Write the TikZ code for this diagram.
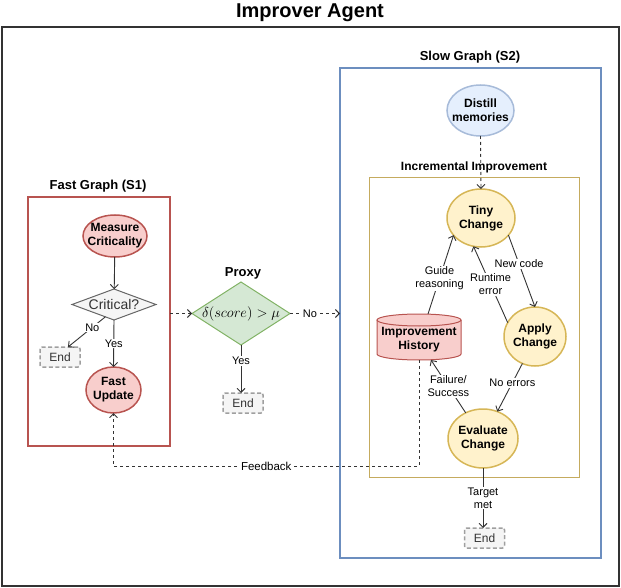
\documentclass[tikz,border=0pt]{standalone}
\usepackage{fontspec}
\setmainfont{Liberation Sans}
\usetikzlibrary{shapes.geometric,arrows.meta,calc}
\definecolor{redS}{HTML}{B85450}
\definecolor{redF}{HTML}{F8CECC}
\definecolor{bluS}{HTML}{6C8EBF}
\definecolor{bluF}{HTML}{DAE8FC}
\definecolor{yelS}{HTML}{D6B656}
\definecolor{yelF}{HTML}{FFF2CC}
\definecolor{grnS}{HTML}{82B366}
\definecolor{grnF}{HTML}{D5E8D4}
\definecolor{gryS}{HTML}{666666}
\definecolor{gryF}{HTML}{F5F5F5}
\definecolor{txt}{HTML}{333333}
\definecolor{conn}{HTML}{333333}
\begin{document}
\begin{tikzpicture}[x=1pt,y=-1pt,
  every node/.style={inner sep=0pt, outer sep=0pt},
  titletext/.style={font=\fontsize{13}{15}\selectfont\bfseries},
  ell/.style={ellipse, inner sep=-12pt, line width=1.5pt, align=center, font=\fontsize{12}{14}\selectfont\bfseries},
  redell/.style={ell, draw=redS, fill=redF},
  yelell/.style={ell, draw=yelS, fill=yelF},
  bluell/.style={ell, draw=bluS!60, fill=bluF!70},
  endbox/.style={rectangle, rounded corners=2pt, draw=gray!75, dashed, dash pattern=on 4pt off 2.5pt, fill=gryF, line width=1.5pt, minimum width=40pt, minimum height=20pt, text=txt, font=\fontsize{12}{14}\selectfont},
  lbl/.style={fill=white, align=center, font=\fontsize{11}{13}\selectfont, inner sep=1pt},
  arr/.style={draw=conn, line width=0.9pt, -{Straight Barb[length=4pt,width=8pt]}},
  darr/.style={arr, dashed, dash pattern=on 3pt off 3pt},
]
\useasboundingbox (0,0) rectangle (621,588);
% title and outer frame
\node[font=\fontsize{20}{24}\selectfont\bfseries] (title) at (310,13) {Improver Agent};
\draw[draw=black!80, line width=2pt] (1.5,27.5) rectangle (619,586);

% fast graph
\node[titletext] (fastT) at (98,186) {Fast Graph (S1)};
\node[rectangle, draw=redS, line width=1.5pt, minimum width=142pt, minimum height=249pt] (fast) at (99,321.5) {};
\node[redell, minimum width=64pt, minimum height=42pt] (meas) at (115,236) {Measure\\Criticality};
\node[diamond, draw=gryS, fill=gryF, line width=1pt, aspect=2.7, minimum width=84pt, minimum height=31pt, text=txt, font=\fontsize{14}{16}\selectfont] (crit) at (114,304.5) {Critical?};
\node[endbox] (endL) at (60,357) {End};
\node[redell, minimum width=55pt, minimum height=46pt] (fupd) at (113.5,390) {Fast\\Update};
\draw[arr] (meas) -- (crit);
\draw[arr] (crit.south) -- node[lbl, pos=0.5] {Yes} (fupd.north);
\draw[arr] (crit.235) -- node[lbl, pos=0.35] {No} ($(endL.north)+(8,0)$);

% proxy
\node[titletext] (proxyT) at (243,273) {Proxy};
\node[diamond, draw=grnS, fill=grnF, line width=1pt, aspect=1.55, inner sep=-6pt, minimum width=98pt, minimum height=63pt, font=\fontsize{14}{16}\selectfont] (proxy) at (241,313.5) {$\delta(score) > \mu$};
\node[endbox] (endP) at (243,403) {End};
\draw[darr] (fast.east |- proxy.west) -- (proxy.west);
\draw[arr] (proxy.south) -- node[lbl, pos=0.33] {Yes} (proxy.south |- endP.north);

% slow graph
\node[titletext] (slowT) at (470,57) {Slow Graph (S2)};
\node[rectangle, draw=bluS, line width=1.5pt, minimum width=261pt, minimum height=490pt] (slow) at (470.5,313) {};
\draw[darr] (proxy.east) -- node[lbl, pos=0.4] {No} (slow.west |- proxy.east);
\node[bluell, minimum width=67pt, minimum height=51pt] (dist) at (480.5,110.5) {Distill\\memories};
\node[titletext, font=\fontsize{12}{14}\selectfont\bfseries] (incT) at (474,167) {Incremental Improvement};
\node[rectangle, draw=yelS!80!gray, line width=0.8pt, minimum width=210pt, minimum height=300pt] (inc) at (474,327) {};
\node[yelell, minimum width=68pt, minimum height=58pt] (tiny) at (481,218) {Tiny\\Change};
\node[yelell, minimum width=62pt, minimum height=59pt] (apply) at (535,336.5) {Apply\\Change};
\node[yelell, minimum width=70pt, minimum height=59pt] (eval) at (483,438.5) {Evaluate\\Change};
\node[endbox] (endS) at (484.5,538) {End};
% cylinder
\node[minimum width=84pt, minimum height=46pt] (hist) at (419,337) {};
\fill[redF] (377,320) -- (377,354) arc[start angle=180, end angle=360, x radius=42pt, y radius=6pt] -- (461,320) arc[start angle=0, end angle=180, x radius=42pt, y radius=6pt] -- cycle;
\draw[redS, line width=1pt] (377,320) -- (377,354) arc[start angle=180, end angle=360, x radius=42pt, y radius=6pt] -- (461,320);
\draw[redS, line width=1pt] (419,320) ellipse[x radius=42pt, y radius=6pt];
\node[align=center, font=\fontsize{12}{14}\selectfont\bfseries] (histT) at (419,340) {Improvement\\History};

\draw[darr] (dist.south) -- (tiny.north);
\draw[arr] (tiny.328) -- node[lbl, pos=0.4] {New code} (apply.north);
\draw[arr] (apply.153) -- node[lbl, pos=0.5] {Runtime\\error} (tiny.255);
\draw[arr] (apply.245) -- node[lbl, pos=0.4] {No errors} (eval.62);
\draw[arr] (eval.124) -- node[lbl, pos=0.5] {Failure/\\Success} ($(hist.south)+(12,0)$);
\draw[arr] ($(hist.north)+(9,0)$) -- node[lbl, pos=0.45] {Guide\\reasoning} (tiny.212);
\draw[arr] (eval.south) -- node[lbl, pos=0.5] {Target\\met} (eval.south |- endS.north);

% feedback
\coordinate (fb1) at (419,466);
\coordinate (fb2) at (113.5,466);
\draw[darr] (hist.south) -- (fb1) -- node[lbl, pos=0.5, font=\fontsize{11.5}{13}\selectfont] {Feedback} (fb2) -- (fupd.south);
\end{tikzpicture}
\end{document}
